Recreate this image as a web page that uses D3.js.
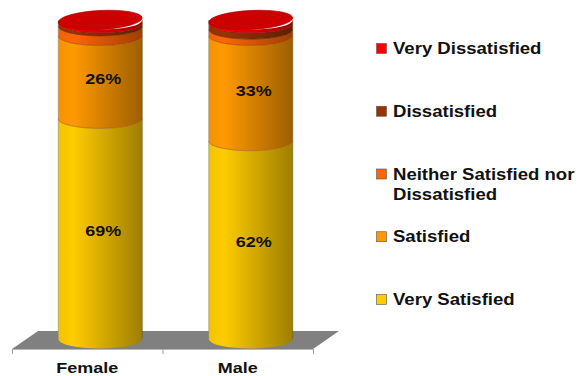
<!DOCTYPE html>
<html>
<head>
<meta charset="utf-8">
<script src="https://cdn.jsdelivr.net/npm/d3@7"></script>
<style>
  html, body { margin: 0; padding: 0; background: #fff; }
  svg { display: block; }
  text { font-family: "Liberation Sans", Arial, Helvetica, sans-serif; font-weight: bold; }
</style>
</head>
<body>
<svg id="chart" width="585" height="376"></svg>
<script>
// Survey responses (percent) by gender, stacked bottom to top
const categories = ["Female", "Male"];
const seriesNames = ["Very Satisfied", "Satisfied", "Neither Satisfied nor Dissatisfied", "Dissatisfied", "Very Dissatisfied"];
const verySatisfied = [69, 62];
const satisfied = [26, 33];
const neither = [3, 2];
const dissatisfied = [1, 2];
const veryDissatisfied = [1, 1];
const seriesColors = ["#FFCC00", "#FF9900", "#FF6600", "#993300", "#FF0000"];
const seriesValues = [verySatisfied, satisfied, neither, dissatisfied, veryDissatisfied];
const valueTicks = [0, 100];

const svg = d3.select("#chart");
const defs = svg.append("defs");

// Horizontal stretch applied to every text label
const SX = 1.16;

// Category band spans the front edge of the floor; depth pushes bars back
const depthX = 26, depthY = 18;
const floorFrontY = 349;
const x = d3.scaleBand().domain(categories).range([12, 313]).paddingInner(0).paddingOuter(0);
const y = d3.scaleLinear().domain(d3.extent(valueTicks)).range([339, 20]);
const rx = 42, ry = 9.5;

// Floor
const x0 = x.range()[0], x1 = x.range()[1];
svg.append("path")
  .attr("d", d3.line()([[x0, floorFrontY], [x0 + depthX, floorFrontY - depthY], [x1 + depthX, floorFrontY - depthY], [x1, floorFrontY]]) + "Z")
  .attr("fill", "#808080");

// Category axis along the floor's front edge, ticks on the band boundaries
svg.append("line").attr("x1", x0).attr("x2", x1).attr("y1", floorFrontY + 0.5).attr("y2", floorFrontY + 0.5)
  .attr("stroke", "#b8b8b8").attr("stroke-width", 1);
const boundaries = categories.map(c => x(c)).concat([x1]);
svg.selectAll("line.tick").data(boundaries).join("line")
  .attr("class", "tick")
  .attr("x1", d => d + 0.5).attr("x2", d => d + 0.5)
  .attr("y1", floorFrontY).attr("y2", floorFrontY + 5)
  .attr("stroke", "#a0a0a0");

svg.selectAll("text.cat").data(categories).join("text")
  .attr("class", "cat")
  .attr("transform", d => `translate(${x(d) + x.bandwidth() / 2},373) scale(${SX},1)`)
  .attr("text-anchor", "middle")
  .attr("font-size", 15.5)
  .attr("fill", "#111")
  .text(d => d);

// Side gradients per series
seriesColors.forEach((c, i) => {
  const base = d3.color(c);
  const g = defs.append("linearGradient").attr("id", "grad" + i)
    .attr("x1", "0%").attr("x2", "100%").attr("y1", "0%").attr("y2", "0%");
  g.append("stop").attr("offset", "0%").attr("stop-color", base.darker(0.12).formatHex());
  g.append("stop").attr("offset", "18%").attr("stop-color", base.formatHex());
  g.append("stop").attr("offset", "55%").attr("stop-color", base.darker(0.55).formatHex());
  g.append("stop").attr("offset", "100%").attr("stop-color", base.darker(1.35).formatHex());
});

// Stacked layout
const rows = categories.map((c, j) => {
  const r = { category: c };
  seriesNames.forEach((s, i) => { r[s] = seriesValues[i][j]; });
  return r;
});
const stacked = d3.stack().keys(seriesNames)(rows);

function sidePath(cx, yb, yt) {
  return `M${cx - rx},${yt} L${cx - rx},${yb} A${rx},${ry} 0 0 0 ${cx + rx},${yb} ` +
         `L${cx + rx},${yt} A${rx},${ry} 0 0 1 ${cx - rx},${yt} Z`;
}
function frontArc(cx, yy) {
  return `M${cx - rx},${yy} A${rx},${ry} 0 0 0 ${cx + rx},${yy}`;
}

categories.forEach((cat, j) => {
  const cx = x(cat) + x.bandwidth() / 2 + depthX / 2;
  const g = svg.append("g");
  stacked.forEach((layer, i) => {
    const [v0, v1] = layer[j];
    const yb = y(v0), yt = y(v1);
    g.append("path").attr("d", sidePath(cx, yb, yt)).attr("fill", `url(#grad${i})`);
  });
  // segment boundaries
  stacked.forEach((layer, i) => {
    if (i === stacked.length - 1) return;
    const yy = y(layer[j][1]);
    const col = d3.color(seriesColors[i + 1]).darker(1.2).formatHex();
    g.append("path").attr("d", frontArc(cx, yy)).attr("fill", "none")
      .attr("stroke", col).attr("stroke-width", 0.8).attr("opacity", 0.85);
  });
  // side outline
  const yBottom = y(0), yTop = y(stacked[stacked.length - 1][j][1]);
  g.append("line").attr("x1", cx - rx).attr("x2", cx - rx).attr("y1", yTop).attr("y2", yBottom)
    .attr("stroke", "#8a8a8a").attr("stroke-width", 0.6);
  g.append("line").attr("x1", cx + rx).attr("x2", cx + rx).attr("y1", yTop).attr("y2", yBottom)
    .attr("stroke", "#6a5a20").attr("stroke-width", 0.6);
  // top cap
  const topColor = d3.color(seriesColors[seriesColors.length - 1]);
  g.append("ellipse").attr("cx", cx).attr("cy", yTop).attr("rx", rx).attr("ry", ry)
    .attr("transform", `rotate(-3,${cx},${yTop})`)
    .attr("fill", topColor.darker(0.62).formatHex())
    .attr("stroke", topColor.darker(1.1).formatHex()).attr("stroke-width", 0.7);

  // value labels on the large segments
  stacked.forEach((layer, i) => {
    const [v0, v1] = layer[j];
    if (v1 - v0 < 10) return;
    g.append("text")
      .attr("transform", `translate(${cx + 3},${y((v0 + v1) / 2) + 7}) scale(${SX},1)`)
      .attr("text-anchor", "middle")
      .attr("font-size", 15.5)
      .attr("fill", "#111")
      .text(Math.round(v1 - v0) + "%");
  });
});

// Legend, top row is the top of the stack
const legendOrder = seriesNames.map((s, i) => i).reverse();
const ly = d3.scalePoint().domain(legendOrder).range([54, 305]);
const legendLines = {
  "Neither Satisfied nor Dissatisfied": ["Neither Satisfied nor", "Dissatisfied"]
};
const lg = svg.append("g");
legendOrder.forEach(i => {
  const name = seriesNames[i];
  const by = ly(i);
  lg.append("rect").attr("x", 376.5).attr("y", by - 10.5).attr("width", 10).attr("height", 10)
    .attr("fill", seriesColors[i]).attr("stroke", "#555").attr("stroke-width", 0.6);
  const lines = legendLines[name] || [name];
  lines.forEach((t, k) => {
    lg.append("text")
      .attr("transform", `translate(393,${by + k * 20}) scale(${SX},1)`)
      .attr("font-size", 16)
      .attr("fill", "#111")
      .text(t);
  });
});
</script>
</body>
</html>
